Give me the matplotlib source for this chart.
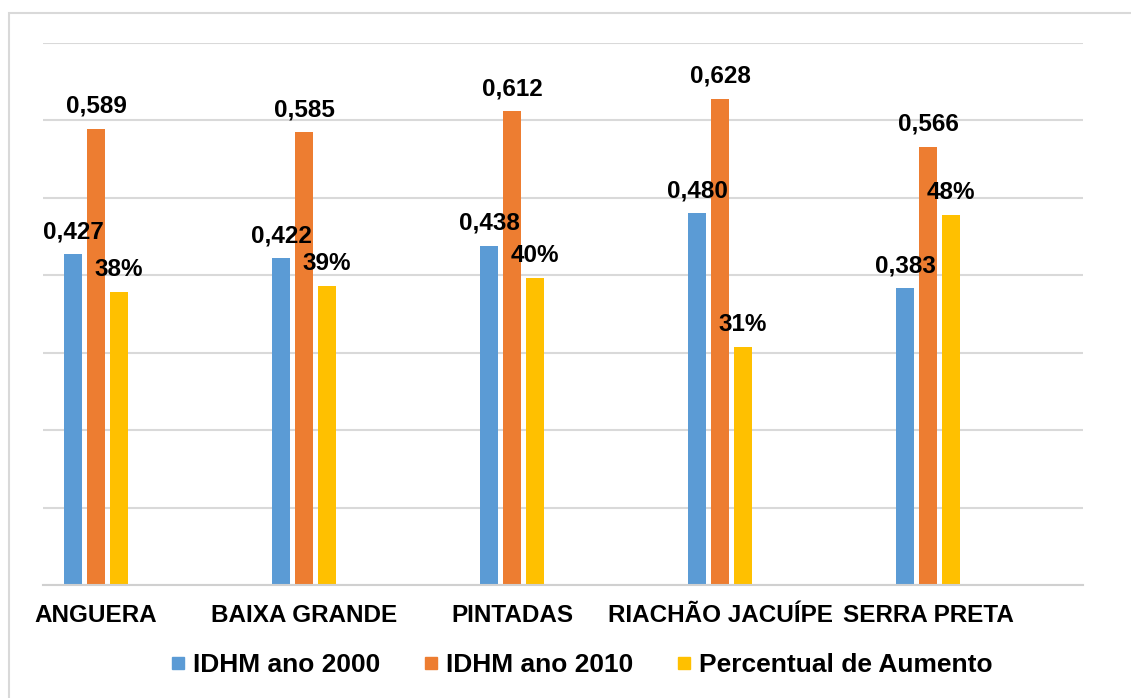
import numpy as np
import matplotlib.pyplot as plt
from matplotlib.lines import Line2D
from matplotlib.patches import Rectangle

plt.rcParams['font.family'] = ['Liberation Sans', 'DejaVu Sans']
plt.rcParams['font.weight'] = 'bold'

cidades = ['ANGUERA', 'BAIXA GRANDE', 'PINTADAS', 'RIACHÃO JACUÍPE', 'SERRA PRETA']
idhm_2000 = [0.427, 0.422, 0.438, 0.480, 0.383]
idhm_2010 = [0.589, 0.585, 0.612, 0.628, 0.566]
aumento = [0.379, 0.386, 0.397, 0.308, 0.478]

series = ['IDHM ano 2000', 'IDHM ano 2010', 'Percentual de Aumento']
cores = ['#5B9BD5', '#ED7D31', '#FFC000']

fig = plt.figure(figsize=(11.31, 6.98), dpi=100)
ax = fig.add_axes([43/1131, 1 - 585/698, 1040/1131, 542/698])

# moldura cinza clara
fig.patches.append(Rectangle((9/1131, -0.05), 1.2, 1 - 13/698 + 0.05, transform=fig.transFigure,
                             fill=False, edgecolor='#d9d9d9', linewidth=1.5))

x = np.arange(len(cidades))
passo = 0.1094
larg = 0.0865

dados = [idhm_2000, idhm_2010, aumento]
for i, (vals, cor) in enumerate(zip(dados, cores)):
    pos = x + (i - 1) * passo
    ax.bar(pos, vals, width=larg, color=cor, zorder=2)
    for px, v in zip(pos, vals):
        if i == 2:
            txt = '%d%%' % round(v * 100)
        else:
            txt = ('%.3f' % v).replace('.', ',')
        ax.annotate(txt, (px, v), xytext=(0, 11.5), textcoords='offset points',
                    ha='center', va='baseline', fontsize=17.5, fontweight='bold', zorder=5)

ax.set_xlim(-0.255, 4.745)
ax.set_ylim(0, 0.7)
ax.set_yticks(np.arange(0, 0.71, 0.1))
ax.yaxis.grid(True, color='#d9d9d9', linewidth=1.5, zorder=0)
ax.set_axisbelow(True)
ax.tick_params(axis='y', left=False, labelleft=False)
ax.tick_params(axis='x', length=0, pad=14, labelsize=17.5)
ax.set_xticks(x)
ax.set_xticklabels(cidades, fontweight='bold')
for s in ['top', 'right', 'left']:
    ax.spines[s].set_visible(False)
ax.spines['bottom'].set_color('#d0d0d0')
ax.spines['bottom'].set_linewidth(1.5)

handles = [Line2D([], [], marker='s', linestyle='', markersize=9, color=c) for c in cores]
fig.legend(handles, series, loc='center', bbox_to_anchor=(582/1131, 1 - 665/698), ncol=3,
           frameon=False, handlelength=0.5, handletextpad=0.3,
           columnspacing=1.7, prop={'weight': 'bold', 'size': 19})

fig.savefig('out.png', dpi=100)
